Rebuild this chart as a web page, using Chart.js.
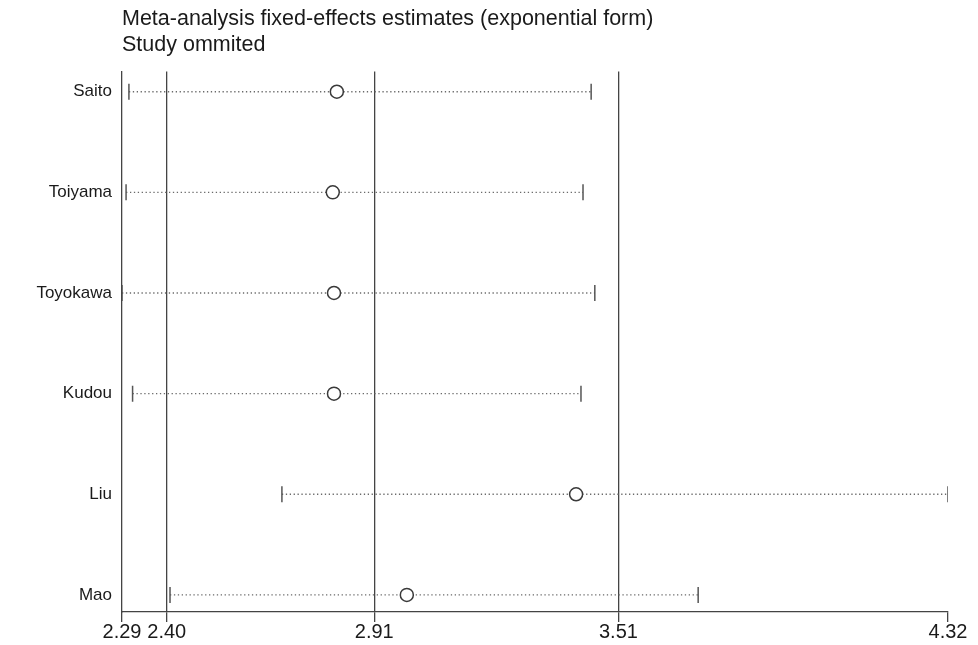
<!DOCTYPE html>
<html>
<head>
<meta charset="utf-8">
<script src="https://cdn.jsdelivr.net/npm/chart.js@4/dist/chart.umd.min.js"></script>
<style>
  html, body { margin: 0; padding: 0; background: #fff; }
  #wrap { width: 978px; height: 645px; }
</style>
</head>
<body>
<div id="wrap"><canvas id="c" width="978" height="645"></canvas></div>
<script>
const studies   = ["Saito", "Toiyama", "Toyokawa", "Kudou", "Liu", "Mao"];
const estimates = [2.818, 2.808, 2.811, 2.811, 3.406, 2.990];
const lowerCI   = [2.307, 2.300, 2.290, 2.316, 2.683, 2.408];
const upperCI   = [3.443, 3.423, 3.452, 3.418, 4.320, 3.706];
const xTicks    = [2.29, 2.40, 2.91, 3.51, 4.32];
const refLines  = [2.40, 2.91, 3.51];
const titleLines = ["Meta-analysis fixed-effects estimates (exponential form)", "Study ommited"];

const FONT = "'Liberation Sans', Arial, Helvetica, sans-serif";
const LINE = "#444";

const datasets = [];
studies.forEach((s, i) => {
  datasets.push({
    type: "line",
    label: s + " CI",
    data: [{x: lowerCI[i], y: i + 1}, {x: upperCI[i], y: i + 1}],
    borderColor: "#6a6a6a",
    borderWidth: 1.3,
    borderDash: [1.3, 2.6],
    pointStyle: "line",
    rotation: 90,
    pointRadius: 8,
    pointBorderColor: "#555",
    pointBorderWidth: 1.5,
    order: 2
  });
});
datasets.push({
  type: "scatter",
  label: "Estimate",
  data: estimates.map((v, i) => ({x: v, y: i + 1})),
  pointStyle: "circle",
  pointRadius: 6.5,
  pointBackgroundColor: "#fff",
  pointBorderColor: "#3a3a3a",
  pointBorderWidth: 1.5,
  order: 1
});

new Chart(document.getElementById("c"), {
  type: "scatter",
  data: { datasets },
  options: {
    responsive: false,
    animation: false,
    layout: { padding: { left: 0, right: 30, top: 0, bottom: 0 } },
    plugins: {
      legend: { display: false },
      tooltip: { enabled: false },
      title: {
        display: true,
        text: titleLines,
        align: "start",
        fullSize: false,
        color: "#1a1a1a",
        font: { family: FONT, size: 21.5, weight: "normal", lineHeight: 1.2 },
        padding: { top: 6, bottom: 14 }
      }
    },
    scales: {
      x: {
        type: "linear",
        min: 2.29,
        max: 4.32,
        afterBuildTicks: (axis) => { axis.ticks = xTicks.map(v => ({ value: v })); },
        afterFit: (axis) => { axis.height = 33; },
        ticks: {
          autoSkip: false,
          maxRotation: 0,
          padding: -2,
          color: "#1a1a1a",
          font: { family: FONT, size: 20 },
          callback: (v) => Number(v).toFixed(2)
        },
        grid: {
          drawOnChartArea: true,
          drawTicks: true,
          tickLength: 10,
          tickColor: LINE,
          lineWidth: 1.3,
          color: (ctx) => {
            const v = ctx.tick ? ctx.tick.value : null;
            return refLines.some(r => Math.abs(r - v) < 1e-9) ? LINE : "rgba(0,0,0,0)";
          }
        },
        border: { display: true, color: LINE, width: 1.3 }
      },
      y: {
        type: "linear",
        reverse: true,
        min: 0.8,
        max: 6.17,
        afterBuildTicks: (axis) => { axis.ticks = studies.map((s, i) => ({ value: i + 1 })); },
        afterFit: (axis) => { axis.width = 122; },
        ticks: {
          autoSkip: false,
          padding: 10,
          color: "#1a1a1a",
          font: { family: FONT, size: 17 },
          callback: (v) => studies[Math.round(v) - 1] || ""
        },
        grid: { display: false, drawTicks: false },
        border: { display: true, color: LINE, width: 1.3 }
      }
    }
  }
});
</script>
</body>
</html>
